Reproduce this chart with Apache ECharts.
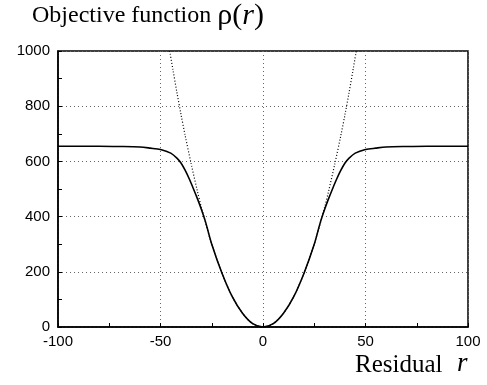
<!DOCTYPE html>
<html>
<head>
<meta charset="utf-8">
<script src="https://cdn.jsdelivr.net/npm/echarts@6/dist/echarts.min.js"></script>
<style>
  html, body { margin: 0; padding: 0; background: #fff; }
  #chart { width: 487px; height: 385px; }
</style>
</head>
<body>
<div id="chart"></div>
<script>
// residual r and objective value (symmetric about 0)
var robustR   = [-100, -80, -70, -60, -55, -50, -45, -42, -40, -38, -36, -34, -32, -30, -28, -25, -20, -15, -10, -5, 0,
                 5, 10, 15, 20, 25, 28, 30, 32, 34, 36, 38, 40, 42, 45, 50, 55, 60, 70, 80, 100];
var robustRho = [655, 655, 654, 652, 648, 643, 630, 612, 594, 568, 537, 502, 465, 425, 380, 300, 195, 110, 50, 12, 0,
                 12, 50, 110, 195, 300, 380, 425, 465, 502, 537, 568, 594, 612, 630, 643, 648, 652, 654, 655, 655];

// plain quadratic (dotted)
var quadR   = [-45.5, -44, -42, -40, -38, -35, -32, -30, -25, -20, -15, -10, -5, 0, 5, 10, 15, 20, 25, 30, 32, 35, 38, 40, 42, 44, 45.5];
var quadRho = [1000, 935, 850, 770, 695, 590, 492, 432, 300, 195, 110, 50, 12, 0, 12, 50, 110, 195, 300, 432, 492, 590, 695, 770, 850, 935, 1000];

function pairs(xs, ys) {
  return xs.map(function (x, i) { return [x, ys[i]]; });
}

var chart = echarts.init(document.getElementById('chart'));
var sans = 'Liberation Sans';
var serif = 'Liberation Serif';

var option = {
  animation: false,
  backgroundColor: '#fff',
  grid: {
    left: 58, right: 19, top: 51, bottom: 58,
    show: true, borderColor: '#000', borderWidth: 1.5, backgroundColor: 'transparent'
  },
  xAxis: {
    type: 'value', min: -100, max: 100, interval: 50,
    axisLine: { onZero: false, lineStyle: { color: '#000', width: 1.5 } },
    axisTick: { inside: true, length: 4, lineStyle: { color: '#000' } },
    minorTick: { show: true, splitNumber: 2, length: 4, lineStyle: { color: '#000' } },
    axisLabel: { color: '#000', fontFamily: sans, fontSize: 15, margin: 7 },
    splitLine: { show: true, lineStyle: { color: '#666', type: [1, 3], width: 1 } }
  },
  yAxis: {
    type: 'value', min: 0, max: 1000, interval: 200,
    axisLine: { show: true, onZero: false, lineStyle: { color: '#000', width: 1.5 } },
    axisTick: { show: true, inside: true, length: 4, lineStyle: { color: '#000' } },
    minorTick: { show: true, splitNumber: 2, length: 4, lineStyle: { color: '#000' } },
    axisLabel: {
      color: '#000', fontFamily: sans, fontSize: 15, margin: 8,
      formatter: function (v) { return String(v); }
    },
    splitLine: { show: true, lineStyle: { color: '#666', type: [1, 3], width: 1 } }
  },
  series: [{
    type: 'line',
    data: pairs(quadR, quadRho),
    showSymbol: false,
    smooth: 0.3,
    clip: true,
    lineStyle: { color: '#000', width: 1.2, type: [1, 2] },
    z: 2
  }, {
    type: 'line',
    data: pairs(robustR, robustRho),
    showSymbol: false,
    smooth: 0.3,
    lineStyle: { color: '#000', width: 1.6 },
    z: 3
  }],
  graphic: [{
    type: 'text', left: 32, top: 1,
    style: {
      text: '{a|Objective function }{b|ρ(}{c|r}{b|)}',
      rich: {
        a: { fontFamily: serif, fontSize: 24, fill: '#000' },
        b: { fontFamily: serif, fontSize: 30, fill: '#000' },
        c: { fontFamily: serif, fontSize: 30, fontStyle: 'italic', fill: '#000' }
      }
    }
  }, {
    type: 'text', left: 355, top: 353,
    style: { text: 'Residual', fontFamily: serif, fontSize: 25, fill: '#000' }
  }, {
    type: 'text', left: 457, top: 350,
    style: { text: 'r', fontFamily: serif, fontSize: 27, fontStyle: 'italic', fill: '#000' }
  }]
};
chart.setOption(option);
</script>
</body>
</html>
